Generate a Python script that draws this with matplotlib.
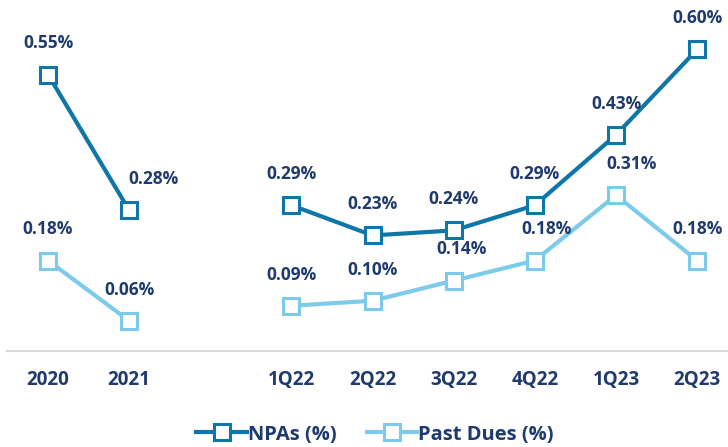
import matplotlib.pyplot as plt
import numpy as np

periods = ['2020', '2021', '1Q22', '2Q22', '3Q22', '4Q22', '1Q23', '2Q23']
xpos = [0, 1, 3, 4, 5, 6, 7, 8]
npas = [0.55, 0.28, 0.29, 0.23, 0.24, 0.29, 0.43, 0.60]
past_dues = [0.18, 0.06, 0.09, 0.10, 0.14, 0.18, 0.31, 0.18]

c_npa = '#0f76a8'
c_pd = '#7dcbea'
c_txt = '#1f3a6d'
plt.rcParams['font.family'] = ['Open Sans', 'DejaVu Sans']

# horizontal nudges (px) for labels that sit right of their marker
npa_dx = {1: 24}
pd_dx = {4: 8, 5: 12, 6: 16}

fig = plt.figure(figsize=(7.28, 4.47), dpi=100)
ax = fig.add_axes([7 / 728, 96 / 447, 1 - 7 / 728, 0.742])

def draw(vals, color, label, dx):
    # two separate segments: annual and quarterly
    ax.plot(xpos[:2], vals[:2], color=color, lw=3, marker='s', ms=11,
            mfc='white', mec=color, mew=2.2, zorder=3)
    ax.plot(xpos[2:], vals[2:], color=color, lw=3, marker='s', ms=11,
            mfc='white', mec=color, mew=2.2, zorder=3, label=label)
    for i, (x, v) in enumerate(zip(xpos, vals)):
        ax.annotate('%.2f%%' % v, (x, v), xytext=(dx.get(i, 0) * 0.72, 16),
                    textcoords='offset points', ha='center', va='bottom',
                    fontsize=12.5, fontweight='bold', color=c_txt)

draw(npas, c_npa, 'NPAs (%)', npa_dx)
draw(past_dues, c_pd, 'Past Dues (%)', pd_dx)

ax.set_xlim(-0.506, 8.38)
ax.set_ylim(0, 0.66)
ax.set_yticks([])
ax.set_xticks(xpos)
ax.set_xticklabels(periods, fontsize=13.5, fontweight='bold', color=c_txt)
ax.tick_params(axis='x', length=0, pad=14)
for s in ['top', 'right', 'left']:
    ax.spines[s].set_visible(False)
ax.spines['bottom'].set_color('#d9d9d9')
ax.spines['bottom'].set_linewidth(1.5)

leg = fig.legend(loc='lower center', bbox_to_anchor=(0.515, -0.035), ncol=2, frameon=False,
                 prop={'size': 14.5, 'weight': 'bold'}, handlelength=2.5,
                 handletextpad=0.05, columnspacing=1.5)
for t in leg.get_texts():
    t.set_color(c_txt)

fig.savefig('out.png', dpi=100)
